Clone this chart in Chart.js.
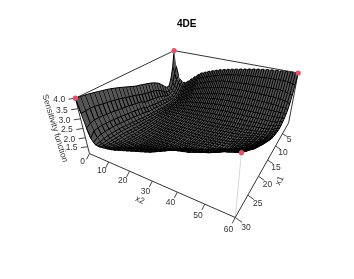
<!DOCTYPE html>
<html>
<head>
<meta charset="utf-8">
<title>4DE</title>
<script src="https://cdn.jsdelivr.net/npm/chart.js@4"></script>
<style>
  html, body { margin: 0; padding: 0; background: #fff; }
  canvas { display: block; }
</style>
</head>
<body>
<canvas id="surface" width="354" height="279"></canvas>
<script>
const x1Ticks = [5, 10, 15, 20, 25, 30];
const x2Ticks = [0, 10, 20, 30, 40, 50, 60];
const zTicks = [1.5, 2.0, 2.5, 3.0, 3.5, 4.0];
const x1Max = 30;
const x2Max = 60;
const zMin = 1.1;
const zMax = 4;
// design points (x1, x2) sitting on the top of the box
const designX1 = [0, 0, 30, 30];
const designX2 = [0, 60, 0, 60];
const designZ = [4, 4, 4, 4];

// sensitivity x 100, one row per x1 = 0..30, one column per x2 = 0..60
const sensitivity = [
[400,300,245,220,210,205,206,214,222,232,242, 252,262,271,281,290,295,300,305,310,315, 319,323,327,331,335,338,341,344,347,350, 353,355,358,360,363,365,367,370,372,375, 377,379,381,383,385,386,388,389,391,392, 393,394,395,396,397,397,398,399,399,400],
[300,262,225,205,192,185,185,190,198,205,212, 222,232,242,254,265,270,275,279,283,288, 292,296,300,304,308,312,315,318,322,325, 327,329,331,333,335,337,339,341,343,344, 345,346,347,348,348,349,350,351,352,353, 354,354,355,355,355,354,353,351,348,345],
[235,210,190,176,169,165,165,170,177,184,192, 201,210,220,230,240,244,249,253,258,262, 266,270,274,278,282,285,288,290,293,295, 296,297,298,299,301,302,303,304,305,306, 307,308,309,310,310,310,311,311,311,312, 312,312,312,312,312,311,309,306,302,298],
[195,180,168,158,153,150,150,154,160,166,173, 181,189,197,206,216,220,224,228,232,236, 240,243,246,249,252,255,258,261,265,268, 269,270,270,271,272,273,274,275,276,276, 277,277,277,278,278,278,278,278,278,278, 278,277,277,276,275,274,272,270,266,262],
[195,172,157,147,142,140,140,143,148,153,158, 165,172,179,187,195,198,201,204,207,210, 213,216,219,222,225,228,231,234,237,240, 241,242,243,244,245,246,247,248,248,249, 249,249,250,250,250,250,250,250,250,250, 250,250,249,249,248,247,246,245,243,240],
[212,175,155,144,138,135,135,137,141,145,149, 155,160,165,171,178,181,183,186,189,192, 195,198,200,203,205,207,209,211,213,215, 216,217,218,219,220,221,222,223,223,224, 224,224,225,225,225,225,226,226,226,226, 226,226,226,226,226,226,226,226,226,225],
[232,190,162,147,138,132,131,132,134,137,141, 145,149,153,157,162,164,167,169,172,174, 176,178,180,182,185,187,189,191,193,195, 196,197,197,198,199,200,201,201,202,203, 203,203,204,204,204,205,205,205,206,206, 206,206,207,207,207,208,209,210,212,215],
[250,206,172,152,139,130,128,128,130,132,134, 137,140,143,146,150,151,153,155,156,158, 160,161,163,165,167,168,170,172,173,175, 176,177,178,179,180,181,182,183,184,184, 185,185,185,185,185,186,187,187,188,189, 189,190,191,191,192,193,195,198,203,208],
[262,217,180,157,141,131,128,127,128,129,131, 132,134,136,138,140,141,143,144,145,147, 148,149,151,152,153,154,156,157,158,160, 161,162,163,164,165,166,167,168,170,171, 171,172,172,172,172,173,174,175,176,177, 178,178,179,180,180,182,185,189,196,203],
[272,226,186,161,144,133,129,128,127,128,129, 130,131,132,133,134,135,136,137,138,139, 140,140,141,142,142,143,144,144,145,146, 147,148,149,150,151,152,153,154,155,157, 158,158,159,159,160,161,162,164,165,167, 168,169,171,172,174,177,180,185,192,200],
[280,232,191,164,147,135,131,129,128,128,128, 128,129,129,130,130,130,131,131,132,132, 132,133,133,133,133,134,134,134,135,135, 136,137,138,139,140,141,142,143,145,146, 147,148,148,149,150,151,153,155,157,159, 161,163,165,167,170,174,178,184,192,200],
[287,238,196,168,150,138,133,130,128,127,127, 127,127,128,128,127,128,128,128,128,129, 129,129,129,130,130,130,130,130,131,131, 132,133,134,135,136,137,138,140,141,143, 144,145,146,147,148,149,151,153,155,158, 160,162,165,167,171,175,180,186,194,203],
[293,243,200,172,153,141,135,131,129,128,127, 126,126,125,125,124,124,125,125,125,125, 126,126,126,126,127,127,127,127,128,128, 129,130,131,132,133,134,135,137,138,140, 141,142,144,145,146,148,150,152,155,158, 161,164,167,170,174,178,184,190,199,208],
[299,248,204,175,156,144,137,133,130,128,126, 125,124,123,123,122,122,122,123,123,123, 123,124,124,124,125,125,125,125,126,126, 127,128,129,130,131,132,134,135,137,138, 140,141,143,144,145,147,150,153,156,160, 163,167,171,175,179,184,189,195,202,210],
[305,254,208,178,158,147,140,135,131,128,126, 124,123,122,122,121,121,121,122,122,122, 122,123,123,123,124,124,124,125,125,125, 126,127,128,129,130,131,133,134,136,138, 139,141,142,144,145,148,151,155,159,163, 167,171,175,180,184,190,196,203,210,218],
[310,262,222,190,166,150,143,137,132,128,125, 123,122,121,120,120,120,120,121,121,121, 122,122,122,123,123,123,124,124,124,125, 126,127,128,129,130,131,133,134,136,138, 139,141,142,144,145,149,153,157,161,166, 170,175,180,185,190,196,203,210,217,225],
[318,269,228,196,170,154,146,139,134,129,126, 124,122,121,120,120,120,120,121,121,122, 122,123,123,124,124,124,125,125,125,126, 127,128,129,130,132,133,135,137,138,140, 141,143,144,146,147,151,156,160,165,170, 175,181,186,192,198,205,212,220,227,235],
[326,276,233,201,175,158,149,142,136,131,127, 125,123,122,121,120,120,121,121,122,122, 123,123,124,124,125,125,126,126,127,127, 128,130,131,133,134,136,138,140,142,143, 145,146,147,148,149,154,159,165,170,176, 182,188,194,200,206,214,222,230,238,245],
[334,282,238,205,180,162,153,145,139,133,129, 126,124,122,121,120,120,121,121,122,123, 123,124,124,125,125,126,126,127,127,128, 130,131,133,135,137,139,141,143,145,147, 148,149,150,151,152,158,163,169,176,183, 190,197,204,210,215,224,232,240,248,255],
[342,288,243,209,184,166,156,148,141,135,131, 128,125,123,122,121,121,122,122,123,124, 125,125,126,127,128,128,129,130,130,131, 133,135,137,139,141,143,145,147,149,151, 152,153,154,155,156,162,168,175,182,190, 197,204,211,218,225,234,242,250,258,265],
[350,295,248,214,188,170,160,151,144,138,133, 130,127,125,123,122,123,124,124,125,126, 127,128,129,130,130,131,132,133,134,135, 137,139,141,142,144,146,148,151,153,156, 160,165,170,175,180,185,190,194,199,203, 210,217,224,231,238,245,252,260,268,275],
[357,301,252,218,192,174,164,155,147,141,136, 132,129,127,125,124,125,126,127,128,129, 130,131,132,133,134,135,136,137,139,140, 142,145,147,150,152,155,159,162,166,170, 175,181,186,192,197,202,207,211,216,220, 226,232,238,244,250,257,264,271,279,287],
[364,306,256,222,195,177,167,158,151,144,139, 135,132,130,128,127,128,129,130,131,133, 134,136,137,139,140,142,144,146,148,150, 153,157,160,164,168,172,176,180,184,188, 193,198,204,209,214,219,223,228,232,236, 241,247,252,258,263,270,276,283,291,298],
[370,311,261,226,199,181,171,162,155,148,143, 139,136,134,132,131,132,133,135,136,138, 140,142,144,146,148,150,152,155,157,160, 164,168,172,176,180,185,190,195,199,204, 209,214,220,225,230,234,239,243,248,252, 257,262,266,271,276,283,289,295,302,309],
[375,316,265,230,203,185,174,166,159,152,147, 143,140,138,136,135,137,139,141,143,145, 147,149,151,154,156,160,163,167,171,175, 180,184,189,193,198,203,207,212,216,221, 226,231,235,240,245,250,254,259,263,268, 272,277,281,286,290,296,302,307,313,320],
[380,320,268,233,205,186,176,168,161,155,151, 148,146,144,143,142,145,147,150,152,155, 157,159,161,164,166,171,175,180,185,190, 195,199,204,208,213,218,222,227,231,236, 241,246,250,255,260,265,269,274,278,282, 286,291,295,300,304,310,316,321,327,333],
[385,325,272,236,207,187,177,169,163,158,155, 153,152,151,150,150,153,156,159,162,165, 168,171,174,177,180,185,190,195,200,205, 210,214,219,223,228,233,238,243,247,252, 257,261,266,270,275,279,283,287,291,295, 300,304,309,313,318,323,329,335,341,347],
[390,330,275,238,208,188,178,171,166,163,161, 160,160,161,162,163,166,170,173,177,180, 184,187,191,194,198,203,208,213,218,223, 228,232,237,241,246,250,255,259,264,268, 272,277,281,286,290,294,297,301,304,308, 313,318,323,329,334,339,344,349,354,360],
[394,332,276,238,207,186,178,172,169,167,166, 166,168,171,173,176,180,184,188,191,195, 198,202,205,209,212,217,222,227,233,238, 243,247,252,256,261,265,270,274,278,282, 286,290,294,298,302,306,309,313,316,320, 326,332,338,344,350,354,359,364,368,373],
[397,331,272,234,203,184,178,174,173,172,172, 175,179,183,188,193,197,201,205,208,212, 216,219,223,227,230,234,238,242,246,250, 255,260,266,271,276,281,286,291,295,300, 304,307,311,314,317,321,325,329,332,336, 342,348,354,360,365,369,373,377,382,387],
[400,330,260,210,190,182,180,180,182,184,186, 188,190,193,196,200,204,208,212,216,220, 224,228,232,236,240,244,248,252,256,260, 265,271,277,282,288,294,300,306,311,316, 318,321,324,327,330,335,340,344,349,353, 359,365,370,375,380,384,388,392,396,400]
];

// perspective of the box, fitted to its corners. u = x1 share, v = x2 share, t = drop from the top
function project(x1, x2, z) {
  const u = x1 / x1Max, v = x2 / x2Max, t = (zMax - z) / (zMax - zMin);
  const w = 1 - 0.3165 * u - 0.1863 * v + 0.0874 * t;
  return {
    x: (174 - 124.1 * u + 70.9 * v + 17.5 * t) / w,
    y: (48 + 18.3 * u + 9.8 * v + 52.4 * t) / w
  };
}

function shifted(p, dx, dy) {
  return { x: p.x + dx, y: p.y + dy };
}

const layers = [];

function addLine(points, color, width, dash) {
  layers.push({
    data: points, showLine: true, pointRadius: 0, fill: false,
    borderColor: color, borderWidth: width, borderDash: dash || []
  });
}

const axisColor = '#333';

// box edges behind the surface
addLine([project(30, 0, zMax), project(0, 0, zMax), project(0, 60, zMax)], axisColor, 1);
addLine([project(30, 0, zMax), project(30, 0, zMin)], axisColor, 1);
addLine([project(0, 60, zMax), project(0, 60, zMin)], axisColor, 1);
addLine([project(30, 60, zMax), project(30, 60, zMin)], '#9a9a9a', 0.8, [1, 1]);

// axes and ticks
addLine([project(30, 0, zMin), project(30, 60, zMin), project(0, 60, zMin)], axisColor, 1);
x2Ticks.forEach(function (tick) {
  const p = project(30, tick, zMin);
  addLine([p, shifted(p, -3, 6)], axisColor, 0.9);
});
x1Ticks.forEach(function (tick) {
  const p = project(tick, 60, zMin);
  addLine([p, shifted(p, 4 + 3 * tick / x1Max, 2.5 + 2.5 * tick / x1Max)], axisColor, 0.9);
});
zTicks.forEach(function (tick) {
  const p = project(30, 0, tick);
  addLine([p, shifted(p, -7, 1)], axisColor, 0.9);
});

// surface, far rows first so the near ones cover them
for (let i = 0; i < x1Max; i++) {
  const rowA = sensitivity[i], rowB = sensitivity[i + 1];
  const outline = [];
  const mesh = [];
  const edge = [];
  for (let j = 0; j <= x2Max; j++) {
    outline.push(project(i, j, rowA[j] / 100));
    edge.push(project(i + 1, j, rowB[j] / 100));
    if (j % 2 === 0) {
      mesh.push(project(i, j, rowA[j] / 100), project(i + 1, j, rowB[j] / 100));
    } else {
      mesh.push(project(i + 1, j, rowB[j] / 100), project(i, j, rowA[j] / 100));
    }
  }
  for (let j = x2Max; j >= 0; j--) {
    outline.push(project(i + 1, j, rowB[j] / 100));
  }
  layers.push({
    data: outline, showLine: true, pointRadius: 0, borderWidth: 0,
    fill: 'shape', backgroundColor: '#565656'
  });
  addLine(mesh, '#000', 1);
  addLine(edge, '#000', 0.9);
}

// design points in red on top
layers.push({
  data: designX1.map(function (x1, k) { return project(x1, designX2[k], designZ[k]); }),
  showLine: false, pointRadius: 2.6, borderWidth: 0,
  backgroundColor: '#DF536B', pointBackgroundColor: '#DF536B'
});

// Chart.js paints the last dataset first
layers.reverse();

const axisText = {
  id: 'axisText',
  afterDatasetsDraw(chart) {
    const c = chart.ctx;
    const sx = chart.scales.x, sy = chart.scales.y;
    function put(text, p, angle, font, color) {
      c.save();
      c.translate(sx.getPixelForValue(p.x), sy.getPixelForValue(p.y));
      c.rotate(angle * Math.PI / 180);
      c.font = font;
      c.fillStyle = color || '#333';
      c.textAlign = 'center';
      c.textBaseline = 'middle';
      c.fillText(text, 0, 0);
      c.restore();
    }
    const small = '8.5px "Liberation Sans"';
    x2Ticks.forEach(function (tick) {
      put(String(tick), shifted(project(30, tick, zMin), -7, 8 + 5 * tick / x2Max), 0, small);
    });
    x1Ticks.forEach(function (tick) {
      put(String(tick), shifted(project(tick, 60, zMin), 6 + 5 * tick / x1Max, 5 + 5 * tick / x1Max), 0, small);
    });
    zTicks.forEach(function (tick) {
      put(tick.toFixed(1), shifted(project(30, 0, tick), -16.5, 1.5), 0, small);
    });
    put('x2', { x: 139, y: 202 }, 24, small);
    put('x1', { x: 282, y: 182 }, -65, small);
    put('Sensitivity function', { x: 52, y: 128 }, 73, small);
    put('4DE', { x: 187, y: 20.5 }, 0, 'bold 10px "Liberation Sans"', '#000');
  }
};

new Chart(document.getElementById('surface').getContext('2d'), {
  type: 'scatter',
  data: { datasets: layers },
  plugins: [axisText],
  options: {
    responsive: false,
    animation: false,
    events: [],
    layout: { padding: 0 },
    plugins: { legend: { display: false }, tooltip: { enabled: false }, title: { display: false } },
    scales: {
      x: { type: 'linear', min: 0, max: 354, display: false },
      y: { type: 'linear', min: 0, max: 279, reverse: true, display: false }
    }
  }
});
</script>
</body>
</html>
